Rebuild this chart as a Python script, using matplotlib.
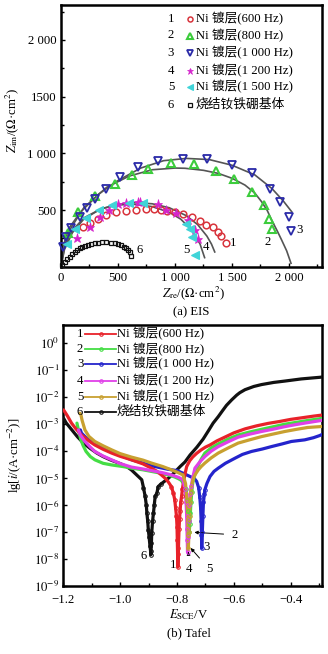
import numpy as np
import matplotlib
matplotlib.use('Agg')
import matplotlib.pyplot as plt
from matplotlib.ticker import FixedLocator, MultipleLocator

plt.rcParams['font.family'] = ['Liberation Serif', 'Noto Sans CJK SC']
plt.rcParams['mathtext.fontset'] = 'stix'

## ---------------- data: EIS (Nyquist) ----------------
eis_labels = ['Ni 镀层(600 Hz)', 'Ni 镀层(800 Hz)', 'Ni 镀层(1 000 Hz)',
              'Ni 镀层(1 200 Hz)', 'Ni 镀层(1 500 Hz)', '烧结钕铁硼基体']

# series 1 (600 Hz)
z1_re = [193, 252, 325, 398, 485, 573, 661, 749, 820, 880, 926, 999, 1072, 1145, 1218, 1276, 1334, 1378, 1407, 1451]
z1_im = [347, 383, 421, 456, 485, 494, 500, 506, 505, 498, 491, 479, 465, 441, 406, 368, 347, 309, 270, 212]
# series 2 (800 Hz)
z2_re = [60, 150, 300, 470, 620, 763, 968, 1170, 1357, 1520, 1673, 1778, 1825, 1854]
z2_im = [300, 480, 620, 730, 810, 859, 912, 906, 847, 771, 661, 544, 418, 330]
# series 3 (1 000 Hz)
z3_re = [17, 45, 90, 164, 230, 300, 398, 515, 675, 851, 1070, 1278, 1497, 1673, 1833, 1921, 2000, 2018]
z3_im = [171, 260, 340, 436, 520, 594, 685, 794, 882, 935, 950, 950, 897, 823, 682, 568, 441, 317]
# series 4 (1 200 Hz)
z4_re = [137, 254, 342, 420, 500, 573, 675, 692, 851, 924, 1013, 1115, 1174, 1203]
z4_im = [250, 353, 441, 500, 553, 564, 573, 573, 553, 500, 470, 412, 323, 241]
# series 5 (1 500 Hz)
z5_re = [50, 120, 220, 330, 450, 600, 720, 1100, 1132, 1150, 1175]
z5_im = [200, 330, 430, 500, 545, 565, 560, 380, 330, 260, 100]
# series 6 (substrate)
z6_re = [10, 32, 55, 76, 98, 120, 142, 164, 186, 208, 237, 266, 296, 325, 362, 398, 435, 471, 500, 529, 552, 573, 590, 603, 611]
z6_im = [15, 44, 66, 88, 110, 132, 148, 162, 173, 183, 192, 200, 206, 212, 214, 215, 212, 206, 200, 191, 178, 162, 148, 132, 94]

# fitted curves
fit2_re = [0, 20, 80, 200, 400, 600, 800, 1000, 1088, 1250, 1380, 1500, 1614, 1700, 1760, 1810, 1848, 1900, 1936, 1980, 2018]
fit2_im = [0, 150, 330, 520, 700, 800, 855, 870, 868, 850, 823, 780, 720, 650, 573, 495, 412, 310, 235, 140, 30]
fit3_re = [0, 15, 70, 170, 330, 500, 700, 900, 1100, 1300, 1500, 1700, 1850, 1950, 2024]
fit3_im = [0, 170, 340, 480, 640, 760, 870, 935, 955, 945, 895, 810, 690, 580, 485]
fit4_re = [0, 30, 100, 200, 350, 500, 650, 800, 950, 1100, 1200, 1280, 1320, 1349]
fit4_im = [0, 150, 300, 420, 510, 550, 565, 555, 520, 450, 370, 270, 200, 130]
fit5_re = [0, 30, 100, 200, 350, 500, 650, 800, 950, 1050, 1150, 1220, 1260]
fit5_im = [0, 170, 320, 430, 510, 545, 550, 530, 480, 420, 320, 200, 80]

## ---------------- data: Tafel ----------------
e1 = [-1.199, -1.194, -1.185, -1.171, -1.155, -1.136, -1.11, -1.089, -1.06, -1.03, -1.00, -0.96, -0.92, -0.89, -0.87,
      -0.855, -0.84, -0.83, -0.82, -0.813, -0.808, -0.805, -0.802, -0.800, -0.799, -0.798, -0.797,
      -0.795, -0.793, -0.791, -0.789, -0.787, -0.784, -0.781, -0.778, -0.772, -0.766, -0.755, -0.745, -0.731, -0.715,
      -0.700, -0.684, -0.66, -0.626, -0.60, -0.56, -0.52, -0.48, -0.44, -0.40, -0.36, -0.32, -0.29]
lg1 = [-2.47, -2.55, -2.70, -2.96, -3.18, -3.40, -3.62, -3.77, -3.93, -4.07, -4.19, -4.32, -4.47, -4.63, -4.75,
       -4.88, -5.02, -5.15, -5.31, -5.55, -5.80, -6.1, -6.4, -6.8, -7.3, -7.8, -8.3,
       -7.6, -6.9, -6.5, -6.2, -5.9, -5.68, -5.40, -5.19, -4.85, -4.57, -4.35, -4.22, -4.08, -3.95,
       -3.85, -3.77, -3.62, -3.45, -3.32, -3.17, -3.06, -2.97, -2.90, -2.82, -2.76, -2.70, -2.66]
e2 = [-1.152, -1.145, -1.138, -1.13, -1.12, -1.105, -1.089, -1.06, -1.03, -0.99, -0.96, -0.92, -0.89, -0.86, -0.832,
      -0.81, -0.795, -0.785, -0.777, -0.770, -0.765, -0.761, -0.758, -0.757,
      -0.755, -0.753, -0.751, -0.748, -0.745, -0.740, -0.733, -0.725, -0.715, -0.702, -0.68, -0.655, -0.62, -0.585,
      -0.545, -0.503, -0.46, -0.421, -0.38, -0.34, -0.30, -0.29]
lg2 = [-2.96, -3.30, -3.58, -3.80, -4.01, -4.20, -4.32, -4.45, -4.51, -4.57, -4.63, -4.69, -4.75, -4.81, -4.88,
       -4.95, -5.02, -5.08, -5.20, -5.40, -5.8, -6.2, -6.6, -7.0,
       -6.7, -6.3, -5.9, -5.5, -5.2, -4.95, -4.72, -4.52, -4.30, -4.07, -3.88, -3.73, -3.55, -3.40,
       -3.29, -3.19, -3.09, -3.00, -2.93, -2.86, -2.80, -2.78]
e3 = [-1.14, -1.136, -1.12, -1.105, -1.089, -1.06, -1.03, -1.0, -0.96, -0.92, -0.89, -0.86, -0.832, -0.80, -0.778,
      -0.754, -0.740, -0.731, -0.724, -0.720, -0.717, -0.715, -0.714, -0.713,
      -0.711, -0.709, -0.707, -0.704, -0.702, -0.695, -0.684, -0.67, -0.655, -0.63, -0.596, -0.57, -0.538, -0.50,
      -0.468, -0.43, -0.398, -0.351, -0.32, -0.298, -0.29]
lg3 = [-3.21, -3.33, -3.50, -3.62, -3.70, -3.86, -4.01, -4.15, -4.32, -4.44, -4.54, -4.61, -4.67, -4.72, -4.82,
       -4.94, -5.00, -5.12, -5.35, -5.7, -6.1, -6.6, -7.1, -7.6,
       -7.0, -6.4, -5.9, -5.6, -5.43, -5.2, -4.94, -4.75, -4.63, -4.45, -4.26, -4.12, -4.01, -3.92,
       -3.83, -3.73, -3.64, -3.58, -3.50, -3.42, -3.38]
e4 = [-1.147, -1.14, -1.124, -1.105, -1.089, -1.06, -1.03, -1.0, -0.96, -0.92, -0.89, -0.85, -0.82, -0.795, -0.779,
      -0.772, -0.768, -0.766, -0.765, -0.764, -0.763,
      -0.761, -0.759, -0.757, -0.754, -0.750, -0.745, -0.737, -0.72, -0.702, -0.68, -0.655, -0.62, -0.585, -0.545,
      -0.503, -0.46, -0.421, -0.38, -0.34, -0.298, -0.29]
lg4 = [-3.21, -3.40, -3.64, -3.85, -4.01, -4.18, -4.32, -4.46, -4.59, -4.66, -4.72, -4.80, -4.88, -4.97, -5.06,
       -5.4, -5.9, -6.4, -6.9, -7.3, -7.75,
       -7.2, -6.6, -6.0, -5.6, -5.3, -5.0, -4.63, -4.40, -4.20, -4.0, -3.83, -3.65, -3.48, -3.37,
       -3.27, -3.18, -3.09, -3.01, -2.94, -2.87, -2.85]
e5 = [-1.142, -1.138, -1.134, -1.124, -1.11, -1.089, -1.06, -1.03, -1.0, -0.96, -0.92, -0.89, -0.85, -0.82, -0.795,
      -0.779, -0.770, -0.765, -0.762, -0.761, -0.760,
      -0.758, -0.756, -0.754, -0.751, -0.747, -0.742, -0.735, -0.725, -0.715, -0.702, -0.68, -0.655, -0.62, -0.585,
      -0.545, -0.503, -0.46, -0.421, -0.38, -0.34, -0.298, -0.29]
lg5 = [-2.59, -2.65, -2.85, -3.21, -3.45, -3.64, -3.80, -3.95, -4.09, -4.22, -4.33, -4.44, -4.57, -4.69, -4.80,
       -4.88, -5.2, -5.8, -6.5, -7.1, -7.6,
       -7.0, -6.4, -5.9, -5.5, -5.2, -5.0, -4.85, -4.69, -4.57, -4.44, -4.25, -4.07, -3.88, -3.70,
       -3.58, -3.46, -3.36, -3.27, -3.19, -3.12, -3.09, -3.08]
e6 = [-1.199, -1.19, -1.17, -1.15, -1.129, -1.105, -1.082, -1.06, -1.035, -1.0, -0.977, -0.96, -0.945, -0.935,
      -0.924, -0.918, -0.912, -0.908, -0.906, -0.903, -0.901, -0.898, -0.895, -0.893, -0.892,
      -0.890, -0.889, -0.886, -0.883, -0.880, -0.877, -0.871, -0.866, -0.858, -0.848, -0.83, -0.81, -0.789, -0.772,
      -0.754, -0.73, -0.708, -0.69, -0.673, -0.655, -0.64, -0.626, -0.608, -0.59, -0.579, -0.561, -0.53, -0.503,
      -0.46, -0.421, -0.363, -0.32, -0.298, -0.29]
lg6 = [-2.78, -2.95, -3.21, -3.47, -3.70, -3.90, -4.07, -4.20, -4.32, -4.46, -4.57, -4.70, -4.85, -4.95,
       -5.06, -5.35, -5.68, -6.0, -6.3, -6.6, -6.91, -7.2, -7.53, -7.7, -7.84,
       -7.4, -7.04, -6.6, -6.30, -6.0, -5.68, -5.56, -5.31, -5.23, -5.15, -5.0, -4.80, -4.57, -4.40,
       -4.14, -3.85, -3.55, -3.25, -2.96, -2.72, -2.50, -2.30, -2.10, -1.92, -1.83, -1.72, -1.60, -1.53,
       -1.45, -1.40, -1.32, -1.28, -1.26, -1.25]

tafel_labels = eis_labels

FIG_W, FIG_H = 328, 654
def fx(px):
    return px / FIG_W
def fy(py):
    return 1 - py / FIG_H

fig = plt.figure(figsize=(FIG_W / 100, FIG_H / 100), dpi=100)

FS = 9.2
grey = '#555555'

## ---------------- (a) EIS ----------------
ax1 = fig.add_axes([fx(61), fy(266.7), fx(322) - fx(61), fy(5) - fy(266.7)])
for r, i in [(fit2_re, fit2_im), (fit3_re, fit3_im), (fit4_re, fit4_im), (fit5_re, fit5_im)]:
    ax1.plot(r, i, color=grey, lw=1.2, zorder=2)

eis_style = [
    dict(marker='o', color='#d8343c', mfc='none', ms=4.8, mew=1.1),
    dict(marker='^', color='#3ccc3c', mfc='none', ms=5.8, mew=1.5),
    dict(marker='v', color='#2a2aa8', mfc='none', ms=5.8, mew=1.3),
    dict(marker='*', color='#d424cc', mfc='#d424cc', ms=6.5, mew=0.5),
    dict(marker='<', color='#40d4d8', mfc='#40d4d8', ms=5.5, mew=0.8),
    dict(marker='s', color='#111111', mfc='none', ms=3.5, mew=0.9),
]
eis_data = [(z1_re, z1_im), (z2_re, z2_im), (z3_re, z3_im), (z4_re, z4_im), (z5_re, z5_im), (z6_re, z6_im)]
for (r, i), st in zip(eis_data, eis_style):
    ax1.plot(r, i, ls='none', zorder=3, clip_on=False, **st)

ax1.set_xlim(0, 2290)
ax1.set_ylim(0, 2308)
ax1.set_xticks([0, 500, 1000, 1500, 2000])
ax1.set_xticklabels(['0', '500', '1 000', '1 500', '2 000'])
ax1.set_yticks([500, 1000, 1500, 2000])
ax1.set_yticklabels(['500', '1 000', '1500', '2 000'])
ax1.xaxis.set_minor_locator(MultipleLocator(250))
ax1.yaxis.set_minor_locator(MultipleLocator(250))
ax1.tick_params(which='both', direction='in', labelsize=FS, width=1.0)
ax1.tick_params(which='major', length=3)
ax1.tick_params(which='minor', length=2)
for s in ax1.spines.values():
    s.set_linewidth(1.8)

# curve numbers
for t, x, y in [('1', 1510, 212), ('2', 1816, 220), ('3', 2094, 323), ('4', 1270, 176), ('5', 1100, 147), ('6', 686, 147)]:
    ax1.text(x, y, t, fontsize=FS, ha='center', va='center')

# legend (a)
rows_a = [19, 35.5, 53, 70.5, 87, 104.5]
for k, (lab, st) in enumerate(zip(eis_labels, eis_style)):
    fig.text(fx(171), fy(rows_a[k]), str(k + 1), fontsize=FS, ha='center', va='center')
    st2 = dict(st)
    st2['ms'] = st['ms'] * 0.75
    ax1.plot([(190 - 61) / 261 * 2290], [(266.7 - rows_a[k]) / 261.7 * 2308], ls='none', clip_on=False, **st2)
    fig.text(fx(196), fy(rows_a[k]), lab, fontsize=FS, ha='left', va='center')

fig.text(fx(12), fy(120), r'$Z_{\rm im}$/($\Omega$·cm$^2$)', rotation=90, fontsize=FS, ha='center', va='center')
fig.text(fx(193), fy(293), r'$Z_{\rm re}$/($\Omega$·cm$^2$)', fontsize=FS, ha='center', va='center')
fig.text(fx(191), fy(312), '(a) EIS', fontsize=FS, ha='center', va='center')

## ---------------- (b) Tafel ----------------
ax2 = fig.add_axes([fx(63.3), fy(586), fx(322) - fx(63.3), fy(325) - fy(586)])
tafel_colors = ['#e8222a', '#44dd44', '#2424cc', '#e040e8', '#c8a030', '#111111']
tafel_data = [(e1, lg1), (e2, lg2), (e3, lg3), (e4, lg4), (e5, lg5), (e6, lg6)]
for k in [5, 2, 1, 0, 3, 4]:
    e, lg = tafel_data[k]
    e = np.array(e)
    cur = 10.0 ** np.array(lg)
    ax2.plot(e, cur, color=tafel_colors[k], lw=2.3, solid_capstyle='round', zorder=3)
    dip = np.array(lg) < -5.2
    ax2.plot(e[dip], cur[dip], ls='none', marker='o', ms=2.6, mfc='none', mec=tafel_colors[k], mew=0.7, zorder=4)

ax2.set_yscale('log')
ax2.set_xlim(-1.2, -0.29)
ax2.set_ylim(1e-9, 10 ** 0.68)
ax2.set_xticks([-1.2, -1.0, -0.8, -0.6, -0.4])
ax2.set_xticklabels(['−1.2', '−1.0', '−0.8', '−0.6', '−0.4'])
ax2.xaxis.set_minor_locator(MultipleLocator(0.1))
ax2.yaxis.set_major_locator(FixedLocator([10.0 ** p for p in range(-9, 1)]))
ax2.set_yticklabels([r'$10^{%d}$' % p for p in range(-9, 1)])
ax2.yaxis.set_minor_locator(FixedLocator([]))
ax2.tick_params(which='both', direction='in', labelsize=FS, width=1.0)
ax2.tick_params(which='major', length=3)
ax2.tick_params(which='minor', length=2)
ax2.tick_params(axis='x', which='major', pad=6)
ax2.tick_params(axis='y', which='major', pad=3)
for s in ax2.spines.values():
    s.set_linewidth(1.8)

# curve numbers and arrows
ax2.text(-0.813, 10 ** -8.21, '1', fontsize=FS, ha='center', va='center')
ax2.text(-0.918, 10 ** -7.88, '6', fontsize=FS, ha='center', va='center')
ax2.text(-0.698, 10 ** -7.57, '3', fontsize=FS, ha='center', va='center')
ax2.annotate('4', xy=(-0.760, 10 ** -7.72), xytext=(-0.757, 10 ** -8.37), fontsize=FS, ha='center', va='center',
             arrowprops=dict(arrowstyle='-|>', color='black', lw=0.7, mutation_scale=5, shrinkA=4, shrinkB=0))
ax2.annotate('5', xy=(-0.752, 10 ** -7.59), xytext=(-0.687, 10 ** -8.37), fontsize=FS, ha='center', va='center',
             arrowprops=dict(arrowstyle='-|>', color='black', lw=0.7, mutation_scale=5, shrinkA=4, shrinkB=0))
ax2.annotate('2', xy=(-0.739, 10 ** -7.01), xytext=(-0.596, 10 ** -7.10), fontsize=FS, ha='center', va='center',
             arrowprops=dict(arrowstyle='-|>', color='black', lw=0.7, mutation_scale=5, shrinkA=4, shrinkB=0))

# legend (b)
rows_b = [334, 349.3, 364, 380.5, 396.5, 411.7]
for k, lab in enumerate(tafel_labels):
    fig.text(fx(80), fy(rows_b[k]), str(k + 1), fontsize=FS, ha='center', va='center')
    fig.add_artist(plt.Line2D([fx(85), fx(116)], [fy(rows_b[k]), fy(rows_b[k])], color=tafel_colors[k], lw=1.3,
                              transform=fig.transFigure))
    fig.add_artist(plt.Line2D([fx(100.5)], [fy(rows_b[k])], ls='none', marker='o', ms=2.5, mfc='none',
                              mec=tafel_colors[k], mew=0.8, transform=fig.transFigure))
    fig.text(fx(117), fy(rows_b[k]), lab, fontsize=FS, ha='left', va='center')

fig.text(fx(15), fy(455), r'lg[$i$/(A·cm$^{-2}$)]', rotation=90, fontsize=FS, ha='center', va='center')
fig.text(fx(189), fy(615), r'$E_{\rm SCE}$/V', fontsize=FS, ha='center', va='center')
fig.text(fx(189), fy(633), '(b) Tafel', fontsize=FS, ha='center', va='center')

fig.savefig('out.png', dpi=100)
